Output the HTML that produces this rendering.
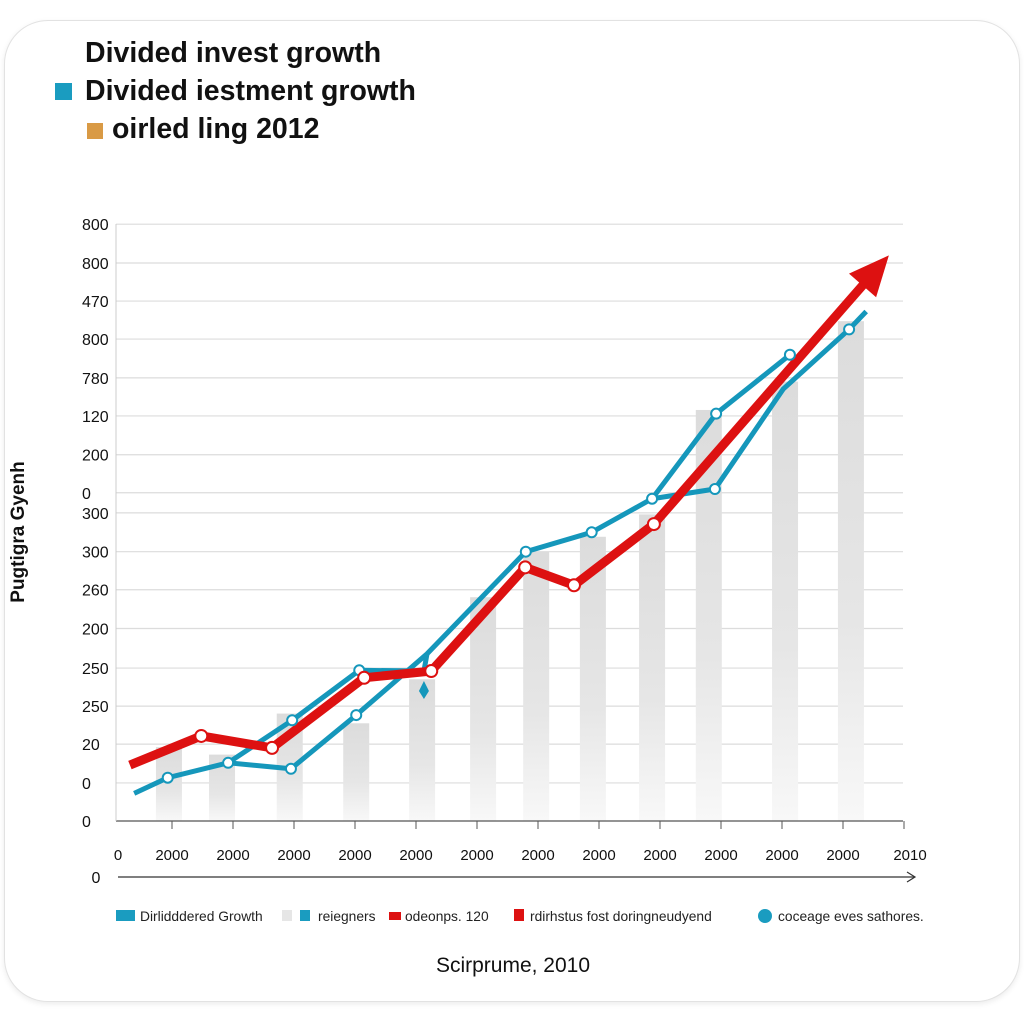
<!DOCTYPE html>
<html><head><meta charset="utf-8"><style>
html,body{margin:0;padding:0;background:#fff;}
body{width:1024px;height:1024px;position:relative;overflow:hidden;font-family:"Liberation Sans",sans-serif;}
#card{position:absolute;left:4px;top:20px;width:1014px;height:980px;border-radius:44px;border:1.5px solid #e2e2e2;box-shadow:0 2px 6px rgba(0,0,0,0.08);background:#fff;}
svg{position:absolute;left:0;top:0;}
</style></head><body>
<div id="card"></div>
<svg id="chart" width="1024" height="1024">
<defs>
<linearGradient id="barg" x1="0" y1="0" x2="0" y2="1">
<stop offset="0" stop-color="#dcdcdc"/><stop offset="0.6" stop-color="#e6e6e6"/><stop offset="1" stop-color="#f8f8f8"/>
</linearGradient>
</defs>
<g>
<text x="85" y="62" font-size="28.5" font-weight="bold" fill="#111">Divided invest growth</text>
<rect x="55" y="83" width="17" height="17" fill="#1a9cc0"/>
<text x="85" y="100" font-size="28.5" font-weight="bold" fill="#111">Divided iestment growth</text>
<rect x="87" y="123" width="16" height="16" fill="#d99a45"/>
<text x="112" y="138" font-size="28.5" font-weight="bold" fill="#111">oirled ling 2012</text>
</g>
<g id="grid"></g>
<g id="bars"></g>
<g id="lines"></g>
<g id="axes"></g>
<text x="0" y="0" transform="translate(24,532) rotate(-90)" text-anchor="middle" font-size="19" font-weight="bold" fill="#111">Pugtigra Gyenh</text>
<text x="513" y="972" text-anchor="middle" font-size="21" fill="#111">Scirprume, 2010</text>
<g font-size="13.8">
<rect x="116" y="910" width="19" height="11" fill="#1a9cc0"/>
<text x="140" y="921" fill="#222">Dirlidddered Growth</text>
<rect x="282" y="910" width="10" height="11" fill="#e6e6e6"/>
<rect x="300" y="910" width="10" height="11" fill="#1a9cc0"/>
<text x="318" y="921" fill="#222">reiegners</text>
<rect x="389" y="912" width="12" height="8" fill="#dd1111"/>
<text x="405" y="921" fill="#222">odeonps. 120</text>
<rect x="514" y="909" width="10" height="12" fill="#dd1111"/>
<text x="530" y="921" fill="#222">rdirhstus fost doringneudyend</text>
<circle cx="765" cy="916" r="7" fill="#1a9cc0"/>
<text x="778" y="921" fill="#222">coceage eves sathores.</text>
</g>
</svg>
<script>
const yTickLabels = ["800","800","470","800","780","120","200","0","300","300","260","200","250","250","20","0","0"];
const yTickValues = [800,748,697,646,594,543,491,440,413,361,310,258,205,154,103,51,0];
const xTickLabels = ["0","2000","2000","2000","2000","2000","2000","2000","2000","2000","2000","2000","2000","2010"];
const barT = [0.95,1.82,2.93,4.02,5.1,6.1,6.97,7.9,8.87,9.8,11.05,12.13];
const barValues = [99,89,144,131,190,300,361,381,411,551,589,670];
const blueAT = [0.38,0.93,1.92,2.95,4.02,5.18,6.8,7.88,8.87,9.92,11.13];
const blueAV = [37,58,78,70,142,224,361,387,432,546,625];
const blueBT = [1.92,2.97,4.07,5.13,5.18];
const blueBV = [78,135,202,201,224];
const blueCT = [8.87,9.9,11.02,12.1,12.38];
const blueCV = [432,445,579,659,683];
const redT = [0.31,1.48,2.64,4.15,5.25,6.79,7.59,8.9,12.45];
const redV = [75,114,98,192,201,340,316,398,730];

const NS="http://www.w3.org/2000/svg";
const xS = t => 111 + 61*t;
const yS = v => 821 - v*0.746;
function mk(tag, attrs, parent){const e=document.createElementNS(NS,tag);for(const k in attrs)e.setAttribute(k,attrs[k]);document.getElementById(parent).appendChild(e);return e;}

yTickValues.forEach((v,i)=>{
  const y=yS(v);
  if(v>0){const g=mk('line',{x1:116,x2:903,y1:y,y2:y,stroke:'#dcdcdc','stroke-width':1.2},'grid');
  
  }
  const t=mk('text',{x:82,y:y+6,'font-size':16,fill:'#111'},'axes');t.textContent=yTickLabels[i];
  
  
});
const xa=mk('line',{x1:116,x2:903,y1:821,y2:821,stroke:'#555','stroke-width':1.2},'axes');


const ya=mk('line',{x1:116,x2:116,y1:224,y2:821,stroke:'#ccc','stroke-width':1},'axes');


xTickLabels.forEach((l,i)=>{
  const x = i===0 ? 118 : xS(i);
  if(i>0){const tk=mk('line',{x1:x,x2:x,y1:821,y2:829,stroke:'#555','stroke-width':1},'axes');
  
  }
  const t=mk('text',{x:i===13?x+6:x,y:860,'font-size':15,fill:'#111','text-anchor':'middle'},'axes');t.textContent=l;
  
  
});
const arr=mk('line',{x1:118,x2:914,y1:877,y2:877,stroke:'#333','stroke-width':1.2},'axes');


const ah=mk('polyline',{points:'907,872 915,877 907,882',fill:'none',stroke:'#333','stroke-width':1.2},'axes');


const z=mk('text',{x:96,y:883,'font-size':16,fill:'#111','text-anchor':'middle'},'axes');z.textContent='0';



barT.forEach((t,i)=>{
  const y=yS(barValues[i]);
  const b=mk('rect',{x:xS(t)-13,y:y,width:26,height:821-y,fill:'url(#barg)'},'bars');
  
  
});
function line(T,V,color,w,name){
  const p=mk('polyline',{points:T.map((t,i)=>xS(t)+','+yS(V[i])).join(' '),fill:'none',stroke:color,'stroke-width':w,'stroke-linejoin':'miter'},'lines');
  
  
}
function dots(T,V,color,r,name,skip){
  T.forEach((t,i)=>{ if(skip.includes(i))return;
    const c=mk('circle',{cx:xS(t),cy:yS(V[i]),r:r,fill:'#fff',stroke:color,'stroke-width':2},'lines');
    
    
  });
}
line(blueAT,blueAV,'#1597bb',5,'blue-line-a');
line(blueBT,blueBV,'#1597bb',5,'blue-line-b');
line(blueCT,blueCV,'#1597bb',5,'blue-line-c');
const dm=mk('polygon',{points:[xS(5.13),yS(201)+10,xS(5.13)+5,yS(201)+20,xS(5.13),yS(201)+28,xS(5.13)-5,yS(201)+20].join(','),fill:'#1597bb'},'lines');


line(redT,redV,'#dd1111',9,'red-trend-line');
const n=redT.length, x1=xS(redT[n-2]),y1=yS(redV[n-2]),x2=xS(redT[n-1]),y2=yS(redV[n-1]);
const ang=Math.atan2(y2-y1,x2-x1), L=40, W=18;
const tx=x2+Math.cos(ang)*(L-12), ty=y2+Math.sin(ang)*(L-12);
const bx=tx-Math.cos(ang)*L, by=ty-Math.sin(ang)*L;
const head=mk('polygon',{points:[tx,ty,bx-Math.sin(ang)*W,by+Math.cos(ang)*W,bx+Math.sin(ang)*W,by-Math.cos(ang)*W].join(','),fill:'#dd1111'},'lines');


dots(blueAT,blueAV,'#1597bb',5,'blue-point',[0,5]);
dots(blueBT,blueBV,'#1597bb',5,'blue-point',[0,3,4]);
dots(blueCT,blueCV,'#1597bb',5,'blue-point',[0,2,4]);
dots(redT,redV,'#dd1111',6,'red-point',[0,8]);
</script>
</body></html>
